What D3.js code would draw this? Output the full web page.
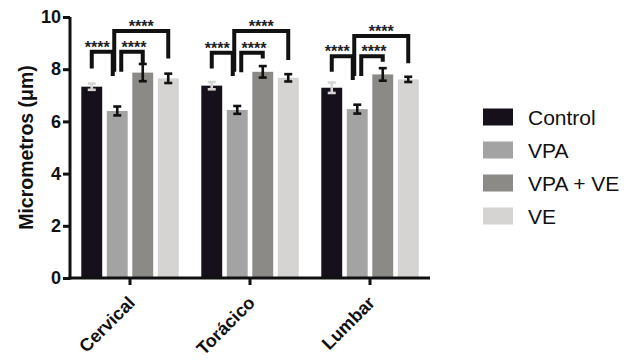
<!DOCTYPE html>
<html>
<head>
<meta charset="utf-8">
<script src="https://cdn.jsdelivr.net/npm/d3@7"></script>
<style>
  html, body { margin: 0; padding: 0; background: #fff; }
  svg { display: block; }
</style>
</head>
<body>
<svg id="chart" width="635" height="360"></svg>
<script>
// ---------- data ----------
const categories = ["Cervical", "Torácico", "Lumbar"];
const seriesNames = ["Control", "VPA", "VPA + VE", "VE"];
const controlMeans = [7.33, 7.37, 7.29];
const vpaMeans     = [6.40, 6.44, 6.47];
const vpaVeMeans   = [7.87, 7.90, 7.80];
const veMeans      = [7.65, 7.67, 7.61];
const controlErr = [0.12, 0.14, 0.20];
const vpaErr     = [0.17, 0.15, 0.17];
const vpaVeErr   = [0.33, 0.22, 0.24];
const veErr      = [0.18, 0.14, 0.10];
const yTicks = [0, 2, 4, 6, 8, 10];
// significance comparisons (series index pairs) and their labels
const compFrom = [0, 1, 1];
const compTo   = [1, 2, 3];
const compLabel = ["****", "****", "****"];
// bracket heights (µm) per category: [comp0, comp1, comp2]
const bracketTop    = [[8.67, 8.67, 9.46], [8.63, 8.63, 9.46], [8.50, 8.50, 9.27]];
const bracketLeftEnd  = [[8.03, 7.90, 7.90], [8.03, 7.88, 7.90], [7.90, 7.74, 7.74]];
const bracketRightEnd = [[7.74, 8.23, 8.41], [7.74, 8.41, 8.35], [7.59, 8.29, 8.23]];

const means = [controlMeans, vpaMeans, vpaVeMeans, veMeans];
const errs = [controlErr, vpaErr, vpaVeErr, veErr];
const colors = ["#15101a", "#a3a3a3", "#8b8a87", "#d6d4d2"];
const errColors = ["#d4d4d4", "#111", "#111", "#111"];

// ---------- scales ----------
const svg = d3.select("#chart");
const y = d3.scaleLinear().domain([0, 10]).range([278, 17]);
const x0 = d3.scaleBand().domain(categories).range([70, 430]).padding(0);
const x1 = d3.scaleBand().domain(seriesNames).range([9, 111]).paddingInner(0.18).paddingOuter(0.09);
const cx = (ci, si) => x0(categories[ci]) + x1(seriesNames[si]) + x1.bandwidth() / 2;

// ---------- bars ----------
const barData = [];
categories.forEach((c, ci) => seriesNames.forEach((s, si) => {
  barData.push({ ci, si, v: means[si][ci], e: errs[si][ci] });
}));

svg.append("g").selectAll("rect").data(barData).join("rect")
  .attr("x", d => x0(categories[d.ci]) + x1(seriesNames[d.si]))
  .attr("y", d => y(d.v))
  .attr("width", x1.bandwidth())
  .attr("height", d => y(0) - y(d.v))
  .attr("fill", d => colors[d.si]);

// error bars
const eg = svg.append("g").attr("stroke-width", 2.6).attr("fill", "none");
barData.forEach(d => {
  const xc = cx(d.ci, d.si);
  const col = errColors[d.si];
  eg.append("line").attr("x1", xc).attr("x2", xc).attr("y1", y(d.v + d.e)).attr("y2", y(d.v - d.e)).attr("stroke", col);
  eg.append("line").attr("x1", xc - 4).attr("x2", xc + 4).attr("y1", y(d.v + d.e)).attr("y2", y(d.v + d.e)).attr("stroke", col);
  eg.append("line").attr("x1", xc - 4).attr("x2", xc + 4).attr("y1", y(d.v - d.e)).attr("y2", y(d.v - d.e)).attr("stroke", col);
});

// ---------- axes ----------
const yAxis = svg.append("g").attr("transform", "translate(70,0)")
  .call(d3.axisLeft(y).tickValues(yTicks).tickSize(7).tickPadding(2));
yAxis.select(".domain").attr("stroke", "#111").attr("stroke-width", 3).attr("d", `M0,${y(10)}V${y(0) + 1.5}`);
yAxis.selectAll(".tick line").attr("stroke", "#111").attr("stroke-width", 3);
yAxis.selectAll(".tick text").attr("fill", "#111")
  .style("font-family", "Liberation Sans, Arial, sans-serif").style("font-size", "18px").style("font-weight", "bold");

const xAxis = svg.append("g").attr("transform", `translate(0,${y(0)})`)
  .call(d3.axisBottom(x0).tickSize(7).tickPadding(0));
xAxis.select(".domain").attr("stroke", "#111").attr("stroke-width", 3).attr("d", "M68.5,0H430");
xAxis.selectAll(".tick line").attr("stroke", "#111").attr("stroke-width", 3);
xAxis.selectAll(".tick text")
  .attr("fill", "#111")
  .attr("text-anchor", "end")
  .attr("dy", null)
  .attr("y", null)
  .attr("transform", "translate(6,26) rotate(-45)")
  .style("font-family", "Liberation Sans, Arial, sans-serif").style("font-size", "18px").style("font-weight", "bold");

// y axis title
svg.append("text")
  .attr("transform", `translate(33,${(y(0) + y(10)) / 2}) rotate(-90)`)
  .attr("text-anchor", "middle")
  .attr("fill", "#111")
  .style("font-family", "Liberation Sans, Arial, sans-serif").style("font-size", "19.5px").style("font-weight", "bold")
  .text("Micrometros (\u03bcm)");

// ---------- significance brackets ----------
const bg = svg.append("g");
const legOffL = [0, 4, -3];
const legOffR = [-4.5, 0, 0];
const starShift = [-5, 2, 0];
categories.forEach((c, ci) => {
  compFrom.forEach((f, k) => {
    const xl = cx(ci, f) + legOffL[k];
    const xr = cx(ci, compTo[k]) + legOffR[k];
    const yt = y(bracketTop[ci][k]);
    bg.append("path")
      .attr("d", `M${xl},${y(bracketLeftEnd[ci][k])}V${yt}H${xr}V${y(bracketRightEnd[ci][k])}`)
      .attr("fill", "none").attr("stroke", "#111").attr("stroke-width", 4)
      .attr("stroke-linejoin", "miter");
    bg.append("text")
      .attr("x", (xl + xr) / 2 + starShift[k])
      .attr("y", yt + 1)
      .attr("text-anchor", "middle")
      .attr("fill", "#222")
      .style("font-family", "Liberation Sans, Arial, sans-serif").style("font-size", "16px").style("font-weight", "bold")
      .text(compLabel[k]);
  });
});

// ---------- legend ----------
const legend = svg.append("g").attr("transform", "translate(483,0)");
const legY = d3.scalePoint().domain(seriesNames).range([117, 216]);
seriesNames.forEach((s, i) => {
  legend.append("rect").attr("x", 0).attr("y", legY(s) - 8.5).attr("width", 30).attr("height", 17).attr("fill", colors[i]);
  legend.append("text").attr("x", 45).attr("y", legY(s) + 7.5)
    .attr("fill", "#111")
    .style("font-family", "Liberation Sans, Arial, sans-serif").style("font-size", "21px")
    .text(s);
});
</script>
</body>
</html>
